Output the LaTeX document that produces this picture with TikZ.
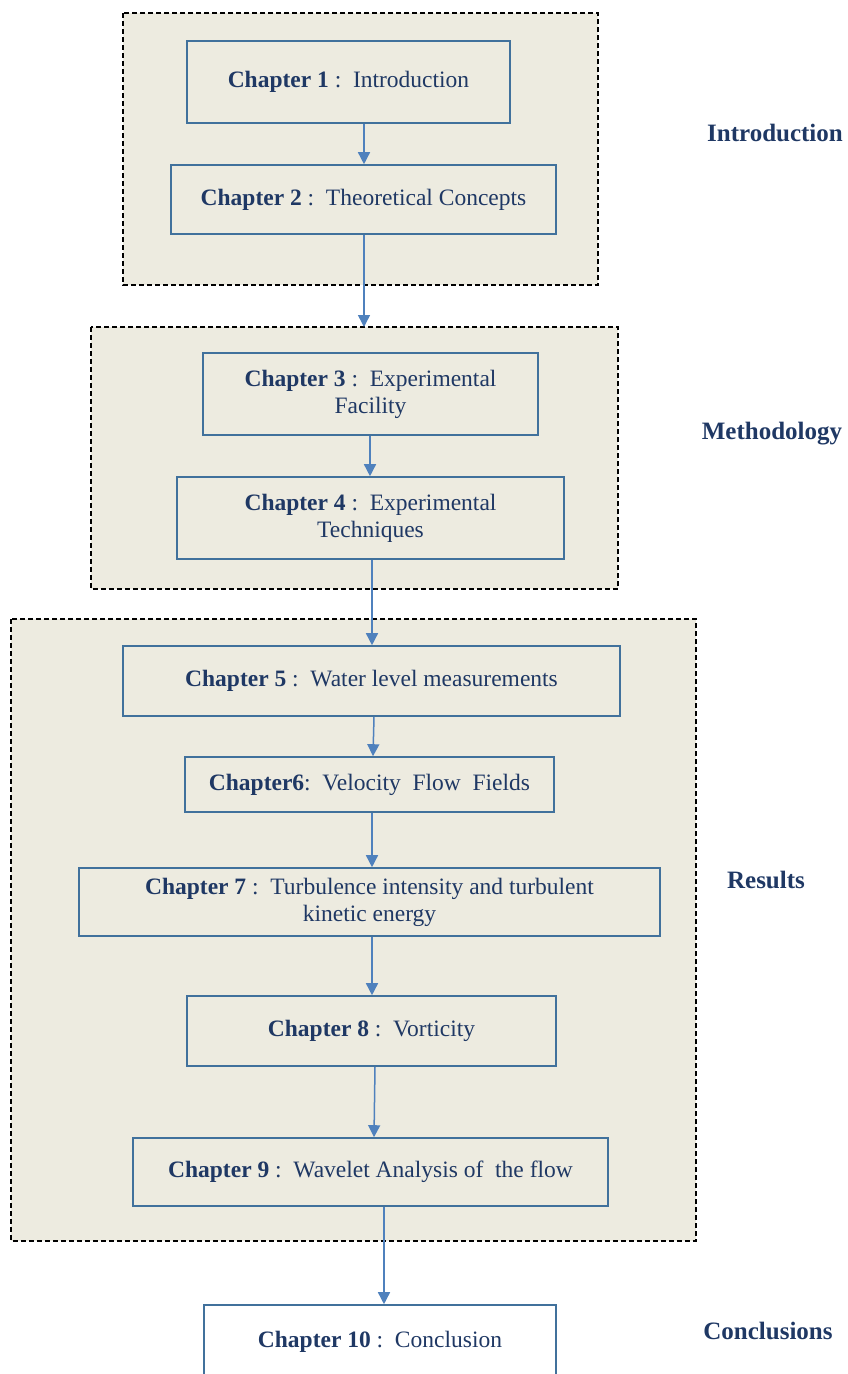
\documentclass[tikz,border=0pt]{standalone}
\usepackage{fontspec}
\setmainfont{Liberation Serif}
\usetikzlibrary{arrows.meta}
\definecolor{navy}{HTML}{1F3864}
\definecolor{boxblue}{HTML}{41719C}
\definecolor{arrblue}{HTML}{4F81BD}
\definecolor{tan}{HTML}{EDEBE0}
\tikzset{
  grp/.style={draw=black, fill=tan, line width=1.3pt, dash pattern=on 5pt off 3pt},
  chap/.style={draw=boxblue, fill=tan, line width=1.6pt, rectangle, align=center, text=navy, font=\fontsize{23.5}{27}\selectfont, inner sep=0pt},
  lab/.style={text=navy, font=\fontsize{25}{29}\selectfont\bfseries},
  arr/.style={draw=arrblue, line width=1.5pt, -{Triangle[length=12pt,width=12pt]}, shorten >=0pt}
}
\begin{document}
\begin{tikzpicture}[x=1pt,y=-1pt]
\useasboundingbox (0,0) rectangle (848,1374);
\clip (0,0) rectangle (848,1374);
% group boxes
\draw[grp] (123,13) rectangle (598,285);
\draw[grp] (91,327) rectangle (618,589);
\draw[grp] (11,619) rectangle (696,1241);
\coordinate (g2top) at (364,327);
% chapters
\node[chap, minimum width=323pt, minimum height=82pt] (c1) at (348.5,82) {\textbf{Chapter 1} :\ \ Introduction};
\node[chap, minimum width=385pt, minimum height=69pt] (c2) at (363.5,199.5) {\textbf{Chapter 2} :\ \ Theoretical Concepts};
\node[chap, minimum width=335pt, minimum height=82pt] (c3) at (370.5,394) {\textbf{Chapter 3} :\ \ Experimental\\Facility};
\node[chap, minimum width=387pt, minimum height=82pt] (c4) at (370.5,518) {\textbf{Chapter 4} :\ \ Experimental\\Techniques};
\node[chap, minimum width=497pt, minimum height=70pt] (c5) at (371.5,681) {\textbf{Chapter 5} :\ \ Water level measurements};
\node[chap, minimum width=369pt, minimum height=55pt] (c6) at (369.5,784.5) {\textbf{Chapter6}:\ \ Velocity\ \ Flow\ \ Fields};
\node[chap, minimum width=581pt, minimum height=68pt] (c7) at (369.5,902) {\textbf{Chapter 7} :\ \ Turbulence intensity and turbulent\\kinetic energy};
\node[chap, minimum width=369pt, minimum height=70pt] (c8) at (371.5,1031) {\textbf{Chapter 8} :\ \ Vorticity};
\node[chap, minimum width=475pt, minimum height=68pt] (c9) at (370.5,1172) {\textbf{Chapter 9} :\ \ Wavelet Analysis of\ \ the flow};
\node[chap, fill=white, minimum width=352pt, minimum height=80pt] (c10) at (380,1345) {};
\node[text=navy, font=\fontsize{23.5}{27}\selectfont] (c10t) at (380,1342) {\textbf{Chapter 10} :\ \ Conclusion};
% labels
\node[lab] (l1) at (775,133) {Introduction};
\node[lab] (l2) at (772,434) {Methodology};
\node[lab] (l3) at (766,880) {Results};
\node[lab] (l4) at (768,1331) {Conclusions};
% arrows
\draw[arr] (c1.south -| 364,0) -- (c2.north -| 364,0);
\draw[arr] (c2.south -| g2top) -- (g2top);
\draw[arr] (c3.south -| 370,0) -- (c4.north -| 370,0);
\draw[arr] (c4.south -| 372,0) -- (c5.north -| 372,0);
\draw[arr] (c5.south -| 374,0) -- (c6.north -| 373,0);
\draw[arr] (c6.south -| 372,0) -- (c7.north -| 372,0);
\draw[arr] (c7.south -| 372,0) -- (c8.north -| 372,0);
\draw[arr] (c8.south -| 375,0) -- (c9.north -| 374,0);
\draw[arr] (c9.south -| 384,0) -- (c10.north -| 384,0);
\end{tikzpicture}
\end{document}
